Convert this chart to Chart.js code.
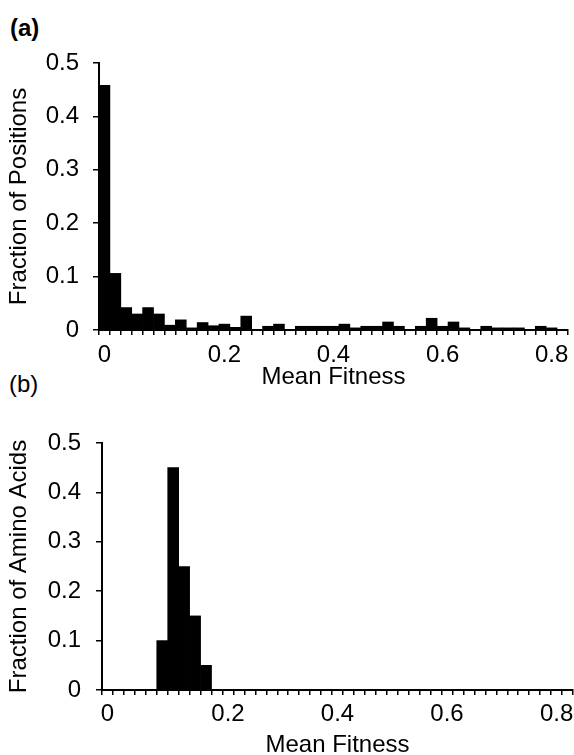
<!DOCTYPE html>
<html>
<head>
<meta charset="utf-8">
<script src="https://cdn.jsdelivr.net/npm/chart.js@4.4.1/dist/chart.umd.min.js"></script>
<style>
  html, body { margin: 0; padding: 0; background: #fff; overflow: hidden; width: 574px; height: 755px; }
  .panel { position: absolute; font-family: "Liberation Sans", Arial, Helvetica, sans-serif; font-size: 24px; color: #000; line-height: 1; }
  canvas { position: absolute; left: 0; }
</style>
</head>
<body>
<div class="panel" id="la" style="left:10px; top:16px; font-weight:bold;">(a)</div>
<div class="panel" id="lb" style="left:9px; top:372px;">(b)</div>
<canvas id="c1" width="574" height="400" style="top:0px; width:574px; height:400px;"></canvas>
<canvas id="c2" width="574" height="370" style="top:400px; width:574px; height:370px;"></canvas>
<script>
// Bin categories (lower edges of histogram bins; first bin is exactly 0)
const categories = ["0","0.00","0.02","0.04","0.06","0.08","0.10","0.12","0.14","0.16","0.18",
  "0.20","0.22","0.24","0.26","0.28","0.30","0.32","0.34","0.36","0.38",
  "0.40","0.42","0.44","0.46","0.48","0.50","0.52","0.54","0.56","0.58",
  "0.60","0.62","0.64","0.66","0.68","0.70","0.72","0.74","0.76","0.78",
  "0.80","0.82"];
// Which categories carry a visible tick label, and the label text
const tickCategories = ["0","0.20","0.40","0.60","0.80"];
const tickLabels = ["0","0.2","0.4","0.6","0.8"];
const yTickLabels = ["0","0.1","0.2","0.3","0.4","0.5"];

// (a) Fraction of positions
const positionsFraction = [0.458,0.106,0.042,0.030,0.042,0.030,0.009,0.019,0.004,0.014,
  0.008,0.011,0.005,0.026,0.000,0.007,0.011,0.000,0.007,0.007,
  0.007,0.007,0.011,0.004,0.007,0.007,0.015,0.007,0.000,0.007,
  0.022,0.007,0.015,0.004,0.000,0.007,0.004,0.004,0.004,0.000,
  0.007,0.004,0.000];
// (b) Fraction of amino acids
const aminoFraction = [0,0,0,0,0,0.10,0.45,0.25,0.15,0.05,
  0,0,0,0,0,0,0,0,0,0,
  0,0,0,0,0,0,0,0,0,0,
  0,0,0,0,0,0,0,0,0,0,
  0,0,0];

const FONT = "'Liberation Sans', Arial, Helvetica, sans-serif";

function makeChart(canvasId, values, yTitle, cfg) {
  return new Chart(document.getElementById(canvasId), {
    type: 'bar',
    data: {
      labels: categories,
      datasets: [{
        data: values,
        backgroundColor: '#000',
        borderWidth: 0,
        barPercentage: 1.0,
        categoryPercentage: 1.0
      }]
    },
    options: {
      responsive: false,
      animation: false,
      events: [],
      layout: { padding: { left: 0, right: cfg.padRight, top: cfg.padTop, bottom: 0 } },
      plugins: { legend: { display: false }, tooltip: { enabled: false } },
      scales: {
        x: {
          type: 'category',
          offset: true,
          grid: {
            display: true, drawOnChartArea: false, drawTicks: true,
            tickLength: 5, offset: true, color: '#000', lineWidth: 1.5
          },
          border: { display: true, color: '#000', width: 2 },
          ticks: {
            autoSkip: false, maxRotation: 0, minRotation: 0,
            padding: cfg.xTickPad, color: '#000',
            font: { family: FONT, size: 24 },
            callback: function (value, index) {
              const k = tickCategories.indexOf(categories[index]);
              return k >= 0 ? tickLabels[k] : '';
            }
          },
          title: {
            display: true, text: 'Mean Fitness', color: '#000',
            font: { family: FONT, size: 24 },
            padding: { top: 0, bottom: cfg.xTitlePad }
          },
          afterFit: function (scale) { scale.height = cfg.xHeight; }
        },
        y: {
          type: 'linear',
          min: 0, max: 0.5,
          grid: {
            display: true, drawOnChartArea: false, drawTicks: true,
            tickLength: 6, color: '#000', lineWidth: 1.5
          },
          border: { display: true, color: '#000', width: 2 },
          ticks: {
            stepSize: 0.1, padding: cfg.yTickPad, color: '#000',
            font: { family: FONT, size: 24 },
            callback: function (value, index) { return yTickLabels[index]; }
          },
          title: {
            display: true, text: yTitle, color: '#000',
            font: { family: FONT, size: 24 },
            padding: { top: 5, bottom: 0 }
          },
          afterFit: function (scale) { scale.width = cfg.yWidth; }
        }
      }
    }
  });
}

makeChart('c1', positionsFraction, 'Fraction of Positions',
  { padRight: 6, padTop: 63, xHeight: 70, xTickPad: 6, xTitlePad: 8, yWidth: 99, yTickPad: 14 });
makeChart('c2', aminoFraction, 'Fraction of Amino Acids',
  { padRight: 1, padTop: 43, xHeight: 80, xTickPad: 5, xTitlePad: 10, yWidth: 102, yTickPad: 15 });
</script>
</body>
</html>
